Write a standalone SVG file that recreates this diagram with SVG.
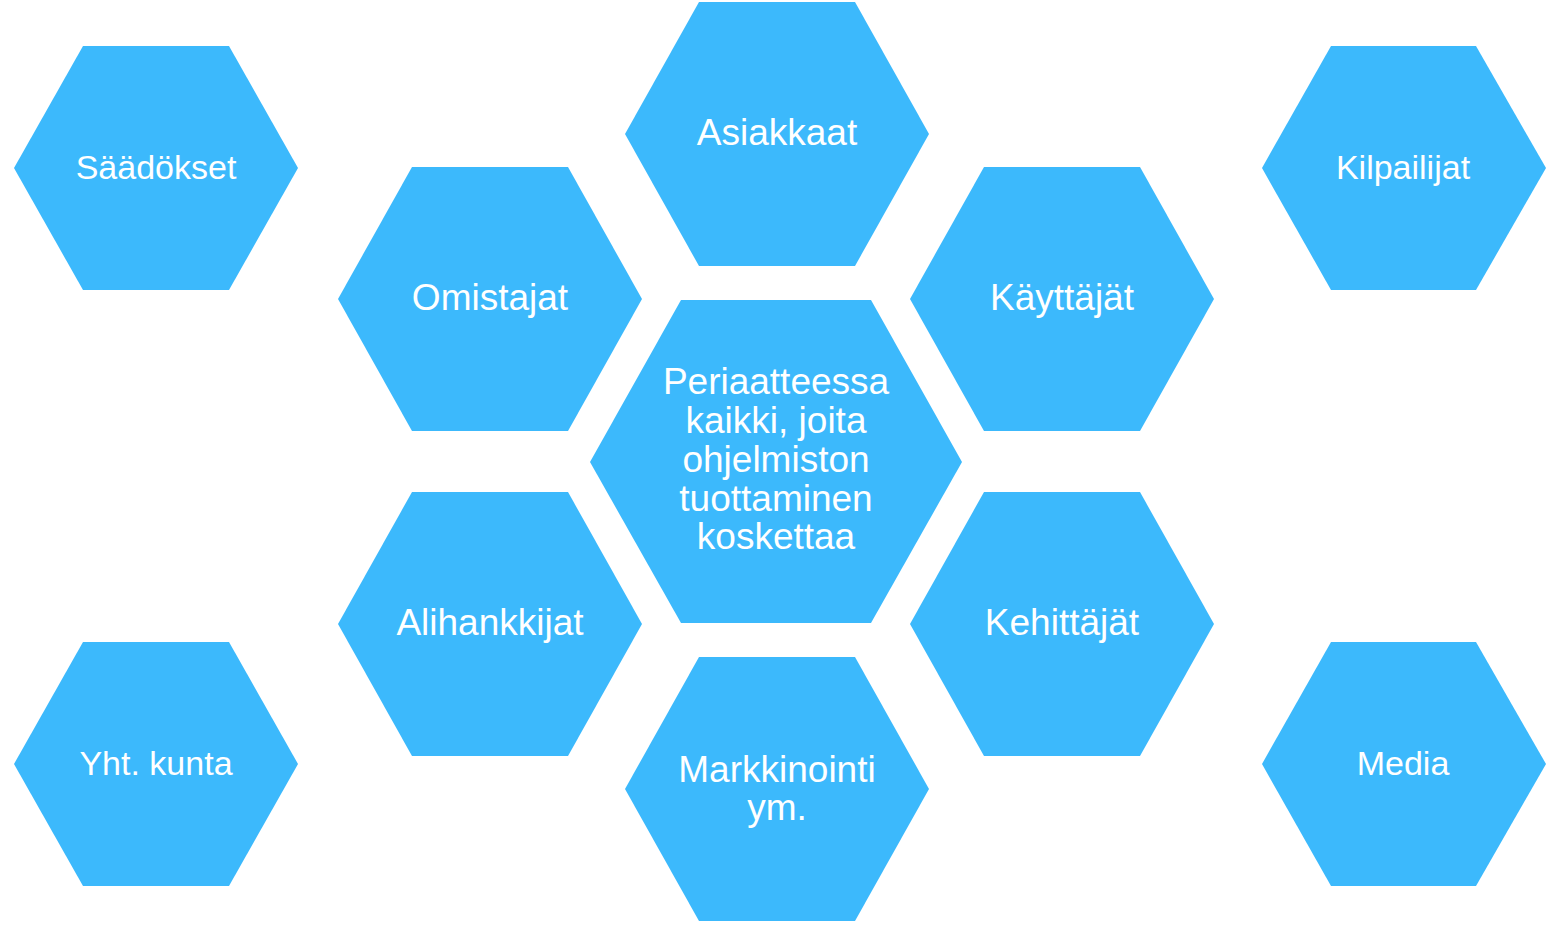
<svg xmlns="http://www.w3.org/2000/svg" width="1564" height="925" viewBox="0 0 1564 925">
<style>
.hex{fill:#3cb9fc;}
.t{fill:#ffffff;font-family:"Liberation Sans",Arial,sans-serif;text-anchor:middle;}
.sm{font-size:34px;}
.md{font-size:37px;}
.ct{font-size:37px;}
</style>
<rect width="1564" height="925" fill="#ffffff"/>
<g id="connectors"></g>
<g id="saadokset"><polygon class="hex" points="14,168 83,46 229,46 298,168 229,290 83,290"/><text class="t sm" x="156" y="179">Säädökset</text></g>
<g id="kilpailijat"><polygon class="hex" points="1262,168 1331,46 1476,46 1546,168 1476,290 1331,290"/><text class="t sm" x="1403" y="179">Kilpailijat</text></g>
<g id="yhtkunta"><polygon class="hex" points="14,764 83,642 229,642 298,764 229,886 83,886"/><text class="t sm" x="156" y="775">Yht. kunta</text></g>
<g id="media"><polygon class="hex" points="1262,764 1331,642 1476,642 1546,764 1476,886 1331,886"/><text class="t sm" x="1403" y="775">Media</text></g>
<g id="asiakkaat"><polygon class="hex" points="625,134 699,2 855,2 929,134 855,266 699,266"/><text class="t md" x="777" y="145">Asiakkaat</text></g>
<g id="omistajat"><polygon class="hex" points="338,299 412,167 568,167 642,299 568,431 412,431"/><text class="t md" x="490" y="310">Omistajat</text></g>
<g id="kayttajat"><polygon class="hex" points="910,299 984,167 1140,167 1214,299 1140,431 984,431"/><text class="t md" x="1062" y="310">Käyttäjät</text></g>
<g id="alihankkijat"><polygon class="hex" points="338,624 412,492 568,492 642,624 568,756 412,756"/><text class="t md" x="490" y="635">Alihankkijat</text></g>
<g id="kehittajat"><polygon class="hex" points="910,624 984,492 1140,492 1214,624 1140,756 984,756"/><text class="t md" x="1062" y="635">Kehittäjät</text></g>
<g id="markkinointi"><polygon class="hex" points="625,789 699,657 855,657 929,789 855,921 699,921"/><text class="t md" x="777" y="782">Markkinointi</text><text class="t md" x="777" y="820">ym.</text></g>
<g id="center"><polygon class="hex" points="590,462 681,300 871,300 962,462 871,623 681,623"/>
<text class="t ct" x="776" y="394">Periaatteessa</text>
<text class="t ct" x="776" y="433">kaikki, joita</text>
<text class="t ct" x="776" y="472">ohjelmiston</text>
<text class="t ct" x="776" y="511">tuottaminen</text>
<text class="t ct" x="776" y="549">koskettaa</text>
</g>
</svg>
